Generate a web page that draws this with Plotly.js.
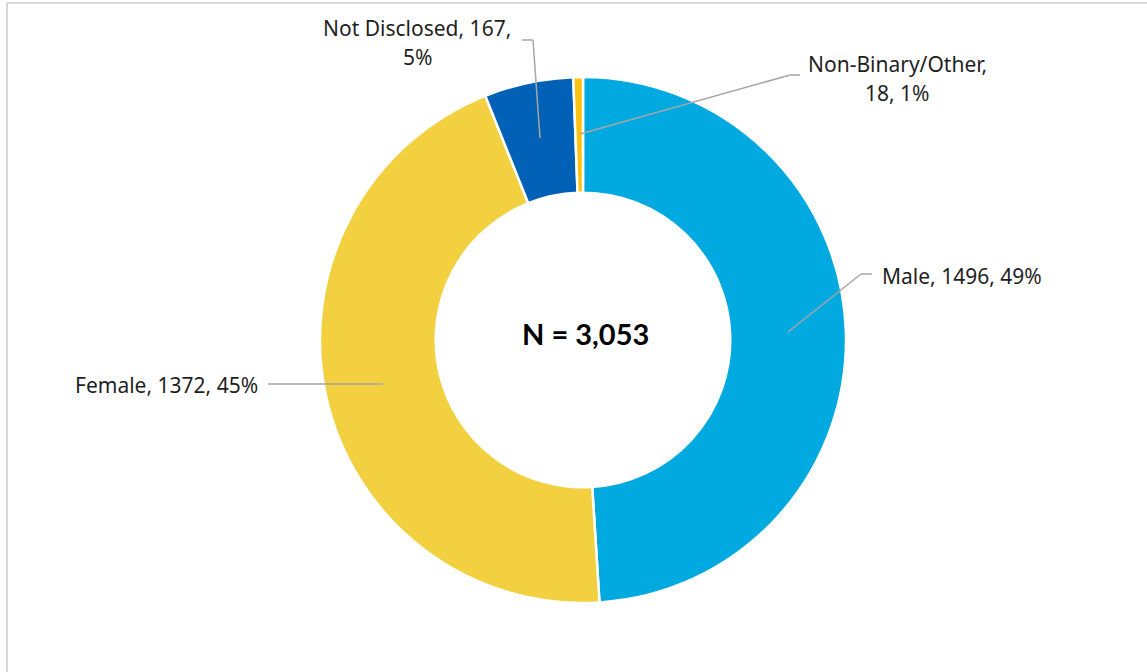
<!DOCTYPE html>
<html>
<head>
<meta charset="utf-8">
<script src="https://cdn.plot.ly/plotly-3.0.1.min.js"></script>
<style>html,body{margin:0;padding:0;background:#fff;}#chart{width:1147px;height:672px;}</style>
</head>
<body>
<div id="chart"></div>
<script>
const categories = ["Male", "Female", "Not Disclosed", "Non-Binary/Other"];
const counts = [1496, 1372, 167, 18];
const percents = [49, 45, 5, 1];
const colors = ["#00A9E0", "#F2D03F", "#0061B6", "#FFC20E"];
const centerText = "N = 3,053";

const W = 1147, H = 672;
const px = x => x / W;
const py = y => 1 - y / H;
const FONT = "'Noto Sans', 'Liberation Sans', sans-serif";
const BOLDFONT = "Lato, 'Liberation Sans', sans-serif";
const txtColor = "#1f1f1f";
const lineColor = "#A6A6A6";

function lbl(i){ return categories[i] + ", " + counts[i] + ", " + percents[i] + "%"; }

const trace = {
  type: "pie",
  labels: categories,
  values: counts,
  sort: false,
  direction: "clockwise",
  rotation: 0,
  hole: 0.56,
  textinfo: "none",
  hoverinfo: "label+value+percent",
  marker: {colors: colors, line: {color: "#ffffff", width: 2.5}},
  domain: {x: [px(583 - 263), px(583 + 263)], y: [py(603), py(77)]},
  showlegend: false
};

function polyline(pts){
  const s = [];
  for (let i = 0; i < pts.length - 1; i++) {
    s.push({type: "line", xref: "paper", yref: "paper",
      x0: px(pts[i][0]), y0: py(pts[i][1]), x1: px(pts[i+1][0]), y1: py(pts[i+1][1]),
      line: {color: lineColor, width: 1.5}});
  }
  return s;
}

const shapes = [
  // frame
  {type: "line", xref: "paper", yref: "paper", x0: px(7), y0: py(3), x1: px(7), y1: 0, line: {color: "#D9D9D9", width: 2}},
  {type: "line", xref: "paper", yref: "paper", x0: px(6), y0: py(3), x1: 1, y1: py(3), line: {color: "#D9D9D9", width: 2}},
  ...polyline([[788, 332], [861, 274], [872, 274]]),
  ...polyline([[268, 384], [383, 384]]),
  ...polyline([[522, 40], [533, 40], [540, 138]]),
  ...polyline([[580, 134], [790, 75], [800, 75]])
];

const f = {family: FONT, size: 21, color: txtColor};
function ann(text, x, y, xanchor, extra){
  return Object.assign({text: text, xref: "paper", yref: "paper", x: px(x), y: py(y),
    xanchor: xanchor, yanchor: "middle", showarrow: false, font: f}, extra || {});
}

const annotations = [
  ann(lbl(0), 880, 276, "left"),
  ann(lbl(1), 260, 385, "right"),
  ann(categories[2] + ", " + counts[2] + ",", 417, 28, "center"),
  ann(percents[2] + "%", 417, 57, "center"),
  ann(categories[3] + ",", 897, 64, "center"),
  ann(counts[3] + ", " + percents[3] + "%", 897, 93, "center"),
  {text: "<b>" + centerText + "</b>", xref: "paper", yref: "paper", x: px(585), y: py(333),
   xanchor: "center", yanchor: "middle", showarrow: false,
   font: {family: BOLDFONT, size: 29, color: "#000000"}}
];

const layout = {
  width: W, height: H,
  margin: {l: 0, r: 0, t: 0, b: 0},
  paper_bgcolor: "#ffffff",
  plot_bgcolor: "#ffffff",
  shapes: shapes,
  annotations: annotations,
  showlegend: false
};

Plotly.newPlot("chart", [trace], layout, {displayModeBar: false, staticPlot: true});
</script>
</body>
</html>
